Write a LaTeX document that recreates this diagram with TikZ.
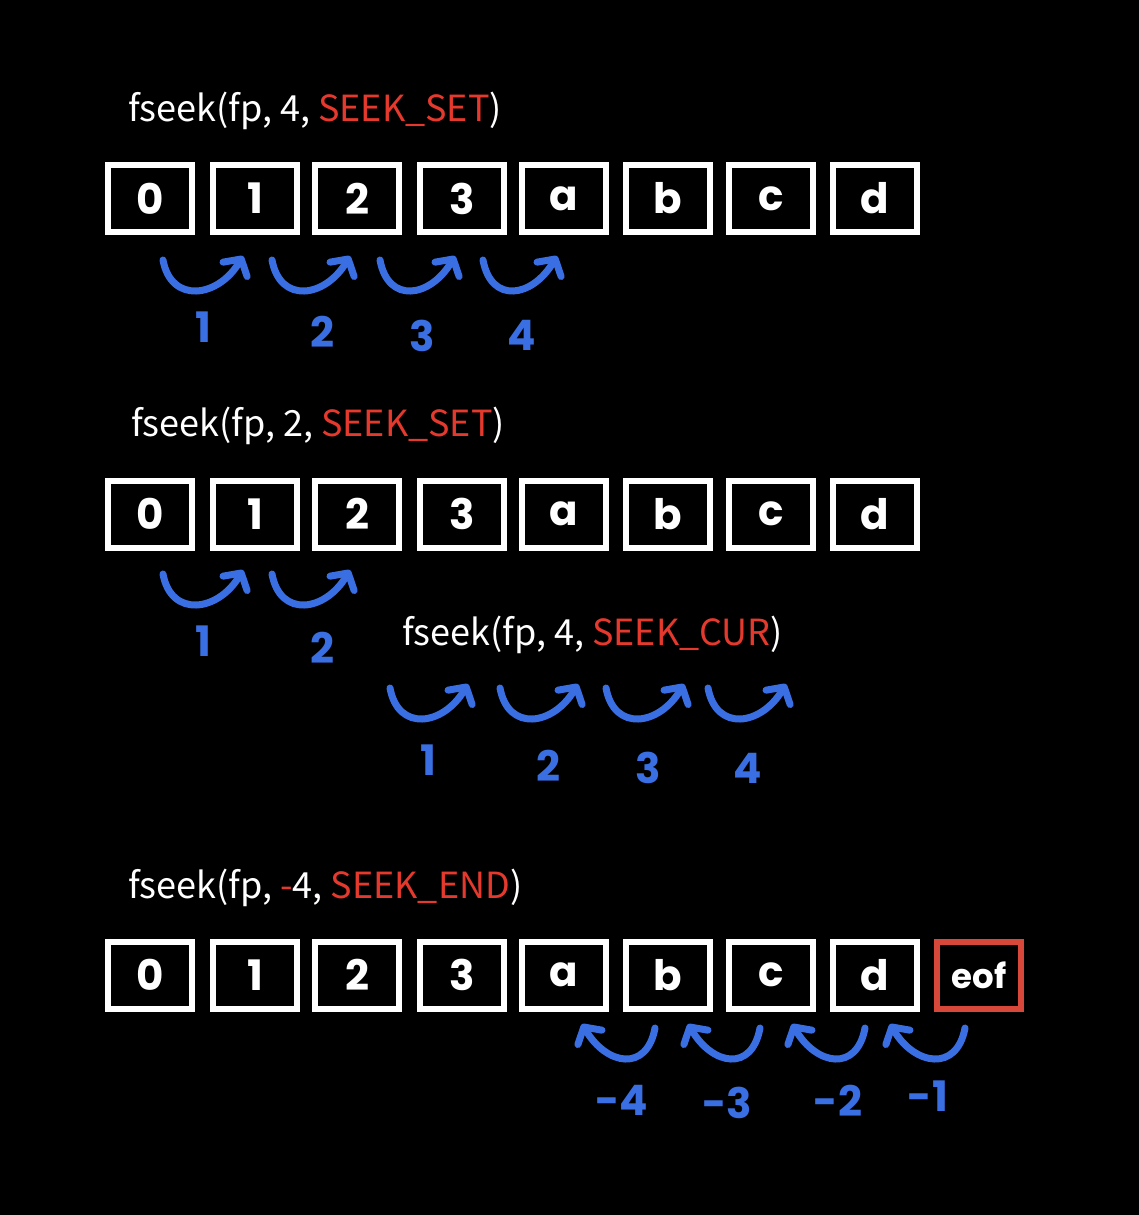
\documentclass[tikz,border=0pt]{standalone}
\usepackage{fontspec}
\setmainfont{Noto Sans CJK KR}
\newfontfamily\hand{Poppins}
\usetikzlibrary{arrows.meta}
\definecolor{bl}{HTML}{3A6FE3}
\definecolor{rd}{HTML}{E5392D}
\definecolor{rbox}{HTML}{D8483A}
\begin{document}
\begin{tikzpicture}[x=1pt,y=-1pt,
  cell/.style={draw=white,line width=6pt,minimum width=84pt,minimum height=67pt,inner sep=0pt,text=white,font=\hand\bfseries\fontsize{42}{42}\selectfont},
  eofcell/.style={cell,draw=rbox,font=\hand\bfseries\fontsize{34}{34}\selectfont},
  title/.style={anchor=base west,inner sep=0pt,text=white,font=\fontsize{36}{36}\selectfont},
  num/.style={text=bl,inner sep=0pt,font=\hand\bfseries\fontsize{42}{42}\selectfont},
  barrow/.style={draw=bl,line width=7pt,line cap=round,-{Straight Barb[length=12pt,width=28pt,line cap=round,line join=round]}}
]
\fill[black] (0,0) rectangle (1139,1215);
\useasboundingbox (0,0) rectangle (1139,1215);

% titles
\node[title] (t1) at (128,121) {fseek(fp, 4, \textcolor{rd}{SEEK\_SET})};
\node[title] (t2) at (131,436) {fseek(fp, 2, \textcolor{rd}{SEEK\_SET})};
\node[title] (t3) at (402,645) {fseek(fp, 4, \textcolor{rd}{SEEK\_CUR})};
\node[title] (t4) at (128,898) {fseek(fp, \textcolor{rd}{-}4, \textcolor{rd}{SEEK\_END})};

% rows of cells
\foreach \r/\y in {A/198.5,B/514,C/975}{
  \foreach \i/\x/\t in {0/150/0,1/255/1,2/357/2,3/462/3,4/564/a,5/668/b,6/771/c,7/875/d}{
    \node[cell] (\r\i) at (\x,\y) {\t};
  }
}
\node[eofcell] (C8) at (979,975) {eof};

% forward arrows row A
\foreach \i/\sx/\ex in {1/163/243,2/272/350,3/380/455,4/483/557}{
  \coordinate (As\i) at (\sx,260);
  \coordinate (Ae\i) at (\ex,256);
  \draw[barrow] (As\i) .. controls +(8,44) and +(-25,42) .. (Ae\i);
}
\node[num] (An1) at (203,327) {1};
\node[num] (An2) at (322,332) {2};
\node[num] (An3) at (422,336) {3};
\node[num] (An4) at (522,335) {4};

% forward arrows row B
\foreach \i/\sx/\ex in {1/163/243,2/272/350}{
  \coordinate (Bs\i) at (\sx,574);
  \coordinate (Be\i) at (\ex,570);
  \draw[barrow] (Bs\i) .. controls +(8,44) and +(-25,42) .. (Be\i);
}
\node[num] (Bn1) at (203,641) {1};
\node[num] (Bn2) at (322,648) {2};

% SEEK_CUR arrows
\foreach \i/\sx/\ex in {1/390/468,2/500/578,3/606/684,4/708/786}{
  \coordinate (Cs\i) at (\sx,688);
  \coordinate (Ce\i) at (\ex,684);
  \draw[barrow] (Cs\i) .. controls +(8,44) and +(-25,42) .. (Ce\i);
}
\node[num] (Cn1) at (428,760) {1};
\node[num] (Cn2) at (548,766) {2};
\node[num] (Cn3) at (648,768) {3};
\node[num] (Cn4) at (748,768) {4};

% backward arrows row C
\foreach \i/\sx/\ex in {1/655/582,2/760/688,3/865/792,4/965/890}{
  \coordinate (Ds\i) at (\sx,1028);
  \coordinate (De\i) at (\ex,1024);
  \draw[barrow] (Ds\i) .. controls +(-8,44) and +(25,42) .. (De\i);
}
\node[num] (Dn1) at (622,1100) {-4};
\node[num] (Dn2) at (727,1103) {-3};
\node[num] (Dn3) at (838,1101) {-2};
\node[num] (Dn4) at (928,1096) {-1};
\end{tikzpicture}
\end{document}
